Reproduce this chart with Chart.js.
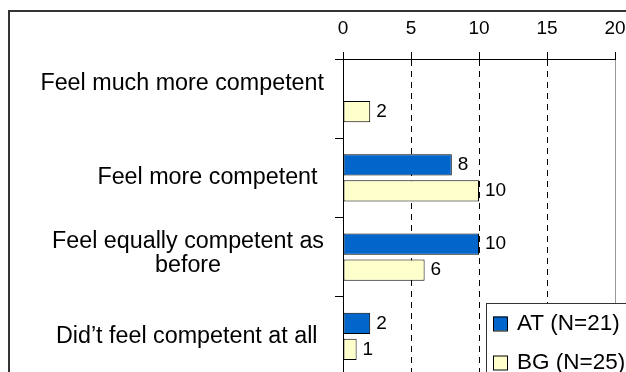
<!DOCTYPE html>
<html>
<head>
<meta charset="utf-8">
<script src="https://cdn.jsdelivr.net/npm/chart.js@4.4.1/dist/chart.umd.min.js"></script>
<style>
  html, body { margin: 0; padding: 0; background: #fff; overflow: hidden; }
  canvas { display: block; }
</style>
</head>
<body>
<canvas id="competenceChart" width="626" height="420"></canvas>
<script>
// Survey answers per group
const categories = [
  ['Feel much more competent', ''],
  ['Feel more competent '],
  ['Feel equally competent as', 'before'],
  ['Did\u2019t feel competent at all ']
];
const atValues = [null, 8, 10, 2];
const bgValues = [2, 10, 6, 1];
const xTicks = [0, 5, 10, 15, 20];
const seriesLabels = ['AT (N=21)', 'BG (N=25)'];
const seriesColors = ['#0066CC', '#FFFFCC'];

const FONT = '"Liberation Sans", Arial, sans-serif';

// Frame around the whole chart
const chartFrame = {
    id: 'chartFrame',
    beforeDraw(chart) {
        const ctx = chart.ctx;
        ctx.save();
        ctx.strokeStyle = '#333';
        ctx.lineWidth = 2;
        ctx.strokeRect(9, 11, 700, 500);
        ctx.restore();
    }
};

// Category names, right aligned, wrapped lines centred under each other
const categoryLabels = {
    id: 'categoryLabels',
    afterDraw(chart) {
        const { ctx, scales: { y } } = chart;
        const right = 324;
        const lh = 23.7;
        ctx.save();
        ctx.font = '23.3px ' + FONT;
        ctx.fillStyle = '#000';
        ctx.textAlign = 'center';
        ctx.textBaseline = 'middle';
        chart.data.labels.forEach((lines, i) => {
            const yc = y.getPixelForTick(i);
            const w = Math.max(...lines.map(t => ctx.measureText(t).width));
            const cx = right - w / 2;
            const n = lines.length;
            lines.forEach((t, j) => {
                ctx.fillText(t, cx, yc + (j - (n - 1) / 2) * lh - (n - 1) * 3.5);
            });
        });
        ctx.restore();
    }
};

// Value next to the end of each bar
const valueLabels = {
    id: 'valueLabels',
    afterDatasetsDraw(chart) {
        const ctx = chart.ctx;
        ctx.save();
        ctx.font = '19px ' + FONT;
        ctx.fillStyle = '#000';
        ctx.textAlign = 'left';
        ctx.textBaseline = 'middle';
        chart.data.datasets.forEach((ds, di) => {
            chart.getDatasetMeta(di).data.forEach((bar, i) => {
                const v = ds.data[i];
                if (v === null) return;
                ctx.fillText(String(v), bar.x + 6, bar.y);
            });
        });
        ctx.restore();
    }
};

// Boxed legend sitting over the lower right of the plot
const boxLegend = {
    id: 'boxLegend',
    afterDraw(chart) {
        const ctx = chart.ctx;
        const left = 486, top = 303;
        ctx.save();
        ctx.fillStyle = '#fff';
        ctx.fillRect(left, top, 200, 130);
        ctx.strokeStyle = '#333';
        ctx.lineWidth = 1;
        ctx.strokeRect(left + 0.5, top + 0.5, 200, 130);
        ctx.font = '22.5px ' + FONT;
        ctx.textAlign = 'left';
        ctx.textBaseline = 'middle';
        chart.data.datasets.forEach((ds, i) => {
            const cy = top + 20.5 + i * 39;
            ctx.fillStyle = ds.backgroundColor;
            ctx.fillRect(left + 7, cy - 7, 14, 14);
            ctx.strokeStyle = '#000';
            ctx.strokeRect(left + 7.5, cy - 6.5, 14, 14);
            ctx.fillStyle = '#000';
            ctx.fillText(ds.label, left + 31, cy);
        });
        ctx.restore();
    }
};

const ctx = document.getElementById('competenceChart').getContext('2d');
const competenceChart = new Chart(ctx, {
    type: 'bar',
    data: {
        labels: categories,
        datasets: [
            { label: seriesLabels[0], data: atValues, backgroundColor: seriesColors[0] },
            { label: seriesLabels[1], data: bgValues, backgroundColor: seriesColors[1] }
        ]
    },
    options: {
        indexAxis: 'y',
        responsive: false,
        animation: false,
        devicePixelRatio: 1,
        layout: { padding: { left: 0, right: 11, top: 0, bottom: 44 } },
        datasets: {
            bar: {
                borderColor: '#000',
                borderWidth: 1,
                borderSkipped: false,
                categoryPercentage: 0.66,
                barPercentage: 0.81
            }
        },
        plugins: {
            legend: { display: false },
            tooltip: { enabled: false }
        },
        scales: {
            x: {
                position: 'top',
                min: 0,
                max: 20,
                afterBuildTicks: scale => { scale.ticks = xTicks.map(v => ({ value: v })); },
                afterFit: scale => {
                    scale.height = 59;
                    scale.paddingLeft = 0;
                    scale.paddingRight = 0;
                },
                ticks: { font: { family: FONT, size: 19 }, color: '#000', padding: 12 },
                grid: {
                    color: c => (c.tick && c.tick.value === 20) ? '#999' : '#000',
                    lineWidth: 1,
                    tickColor: '#000',
                    tickLength: 7,
                    tickBorderDash: []
                },
                border: {
                    color: '#000',
                    width: 1,
                    dash: c => (c.tick && (c.tick.value === 0 || c.tick.value === 20)) ? [] : [6, 5]
                }
            },
            y: {
                offset: true,
                afterFit: scale => { scale.width = 343; },
                ticks: { display: false },
                grid: {
                    offset: true,
                    drawOnChartArea: false,
                    drawTicks: true,
                    tickLength: 8,
                    tickColor: '#000'
                },
                border: { color: '#000', width: 1 }
            }
        }
    },
    plugins: [chartFrame, valueLabels, categoryLabels, boxLegend]
});
</script>
</body>
</html>
